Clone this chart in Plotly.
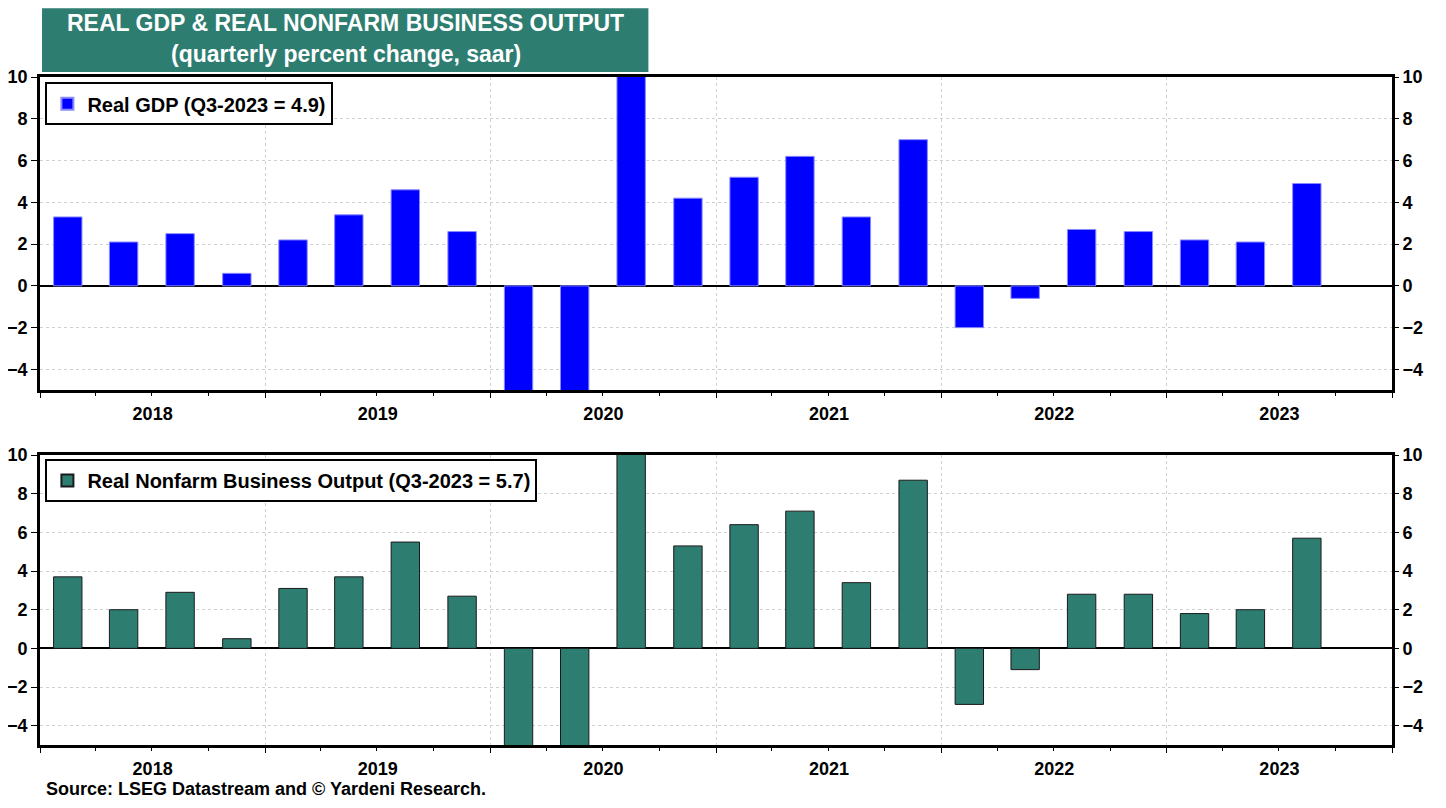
import plotly.graph_objects as go

# quarter start dates, Q1-2018 .. Q3-2023
quarters = [
    "2018-01-01", "2018-04-01", "2018-07-01", "2018-10-01",
    "2019-01-01", "2019-04-01", "2019-07-01", "2019-10-01",
    "2020-01-01", "2020-04-01", "2020-07-01", "2020-10-01",
    "2021-01-01", "2021-04-01", "2021-07-01", "2021-10-01",
    "2022-01-01", "2022-04-01", "2022-07-01", "2022-10-01",
    "2023-01-01", "2023-04-01", "2023-07-01",
]

# real GDP, q/q % saar
gdp = [3.3, 2.1, 2.5, 0.6, 2.2, 3.4, 4.6, 2.6,
       -5.5, -28.0, 34.8, 4.2, 5.2, 6.2, 3.3, 7.0,
       -2.0, -0.6, 2.7, 2.6, 2.2, 2.1, 4.9]

# real nonfarm business output, q/q % saar
nfb = [3.7, 2.0, 2.9, 0.5, 3.1, 3.7, 5.5, 2.7,
       -6.3, -33.0, 43.0, 5.3, 6.4, 7.1, 3.4, 8.7,
       -2.9, -1.1, 2.8, 2.8, 1.8, 2.0, 5.7]

gdp_name = "Real GDP (Q3-2023 = 4.9)"
nfb_name = "Real Nonfarm Business Output (Q3-2023 = 5.7)"
source_text = "Source: LSEG Datastream and © Yardeni Research."

TEAL = "#2e7d71"
FONT = "Liberation Sans, Arial, sans-serif"
bar_width = 46 * 24 * 3600 * 1000  # ms

fig = go.Figure()

fig.add_trace(go.Bar(
    x=quarters, y=gdp, name=gdp_name,
    xperiod="M3", xperiodalignment="middle",
    width=bar_width,
    marker=dict(color="#0000ff", line=dict(color="#8a8aff", width=1)),
    xaxis="x", yaxis="y", legend="legend",
))
fig.add_trace(go.Bar(
    x=quarters, y=nfb, name=nfb_name,
    xperiod="M3", xperiodalignment="middle",
    width=bar_width,
    marker=dict(color=TEAL, line=dict(color="#1a1a1a", width=1)),
    xaxis="x2", yaxis="y2", legend="legend2",
))

# invisible traces so the right-hand tick axes get drawn
for ya, xa, vals in (("y3", "x", gdp), ("y4", "x2", nfb)):
    fig.add_trace(go.Scatter(
        x=quarters, y=vals, mode="markers", marker=dict(opacity=0),
        xaxis=xa, yaxis=ya, showlegend=False, hoverinfo="skip",
    ))

tick_font = dict(family=FONT, size=18, color="black", weight="bold")

xaxis_common = dict(
    type="date", automargin=False,
    range=["2018-01-01", "2024-01-01"],
    dtick="M12", tick0="2018-01-01",
    tickformat="%Y", ticklabelmode="period",
    ticks="outside", ticklen=5, tickwidth=1, tickcolor="black",
    minor=dict(dtick="M3", ticks="outside", ticklen=3, tickcolor="black", showgrid=False),
    showgrid=True, gridcolor="#d0d0d0", griddash="dot", gridwidth=1,
    showline=True, linecolor="black", linewidth=3, mirror=True,
    tickfont=tick_font, fixedrange=True,
)

yaxis_common = dict(
    automargin=False,
    range=[-5, 10], dtick=2, tick0=0,
    ticks="outside", ticklen=6, tickwidth=1, tickcolor="black",
    showgrid=True, gridcolor="#d0d0d0", griddash="dot", gridwidth=1,
    zeroline=True, zerolinecolor="black", zerolinewidth=2,
    showline=True, linecolor="black", linewidth=3, mirror=True,
    tickfont=tick_font, fixedrange=True,
)

right_common = dict(
    automargin=False,
    range=[-5, 10], dtick=2, tick0=0, side="right",
    ticks="outside", ticklen=6, tickwidth=1, tickcolor="black",
    showgrid=False, zeroline=False, showline=False,
    tickfont=tick_font, fixedrange=True,
)

legend_common = dict(
    x=0.004, xanchor="left", yanchor="top",
    bgcolor="white", bordercolor="black", borderwidth=2,
    font=dict(family=FONT, size=20, color="black", weight="bold"),
    itemsizing="constant",
)

# page body adds an 8px margin, so the figure is a bit smaller than the window
fig.update_layout(
    width=1430, height=792,
    paper_bgcolor="white", plot_bgcolor="white",
    margin=dict(l=32, r=46, t=69, b=55, autoexpand=False),
    barmode="overlay",
    showlegend=True,
    xaxis=dict(xaxis_common, anchor="y"),
    xaxis2=dict(xaxis_common, anchor="y2", matches="x"),
    yaxis=dict(yaxis_common, domain=[0.531, 1.0], anchor="x"),
    yaxis2=dict(yaxis_common, domain=[0.0, 0.434], anchor="x2"),
    yaxis3=dict(right_common, overlaying="y", anchor="x"),
    yaxis4=dict(right_common, overlaying="y2", anchor="x2"),
    legend=dict(legend_common, y=0.992),
    legend2=dict(legend_common, y=0.428),
    font=dict(family=FONT, color="black"),
)

# title box
fig.add_shape(
    type="rect", xref="paper", yref="paper",
    x0=0.0015, x1=0.45, y0=1.0075, y1=1.103,
    fillcolor=TEAL, line=dict(width=0), layer="below",
)
fig.add_annotation(
    xref="paper", yref="paper", x=0.226, y=1.081,
    text="REAL GDP & REAL NONFARM BUSINESS OUTPUT",
    showarrow=False, xanchor="center", yanchor="middle",
    font=dict(family=FONT, size=23, color="white", weight="bold"),
)
fig.add_annotation(
    xref="paper", yref="paper", x=0.226, y=1.034,
    text="(quarterly percent change, saar)",
    showarrow=False, xanchor="center", yanchor="middle",
    font=dict(family=FONT, size=23, color="white", weight="bold"),
)

fig.add_annotation(
    xref="paper", yref="paper", x=0.003, y=-0.0655,
    text=source_text, showarrow=False,
    xanchor="left", yanchor="middle",
    font=dict(family=FONT, size=18, color="black", weight="bold"),
)

fig.write_html("out.html")
